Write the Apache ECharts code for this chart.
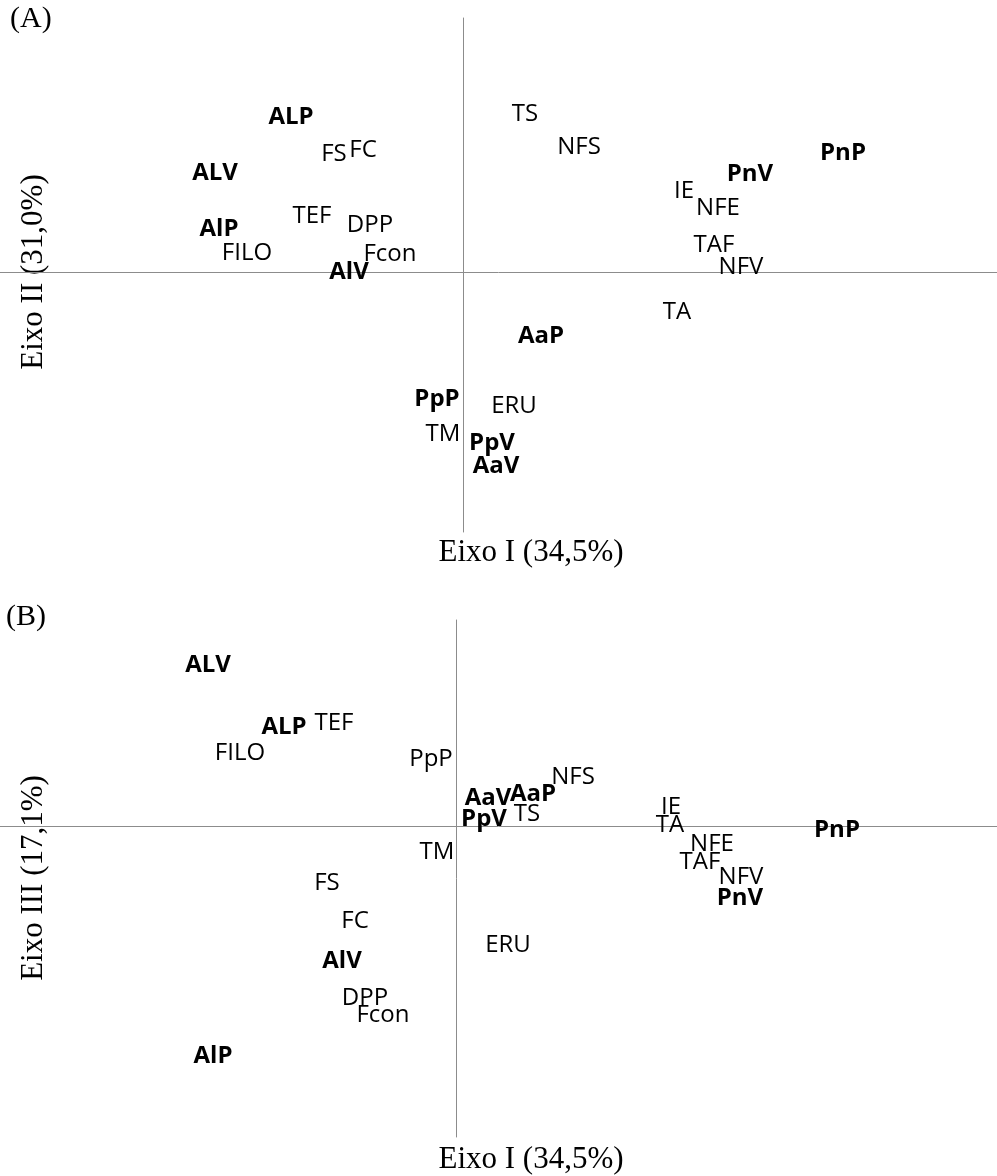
<!DOCTYPE html>
<html>
<head>
<meta charset="utf-8">
<script src="https://cdn.jsdelivr.net/npm/echarts@6/dist/echarts.min.js"></script>
<style>html,body{margin:0;padding:0;background:#fff}#c{width:997px;height:1176px}</style>
</head>
<body>
<div id="c"></div>
<script>
// Panel A (Eixo I x Eixo II)
var labelsA = ['ALP','FS','FC','ALV','TEF','DPP','AlP','FILO','Fcon','AlV','TS','NFS','PnP','PnV','IE','NFE','TAF','NFV','TA','AaP','PpP','ERU','TM','PpV','AaV'];
var xA = [-1.72,-1.29,-1.00,-2.48,-1.51,-0.93,-2.44,-2.16,-0.73,-1.14,0.62,1.16,3.80,2.87,2.21,2.55,2.51,2.78,2.14,0.78,-0.26,0.51,-0.20,0.29,0.33];
var yA = [1.57,1.20,1.24,1.01,0.58,0.49,0.45,0.21,0.20,0.02,1.60,1.27,1.21,1.00,0.83,0.66,0.29,0.07,-0.38,-0.62,-1.25,-1.32,-1.60,-1.69,-1.92];
var boldA = [1,0,0,1,0,0,1,0,0,1,0,0,1,1,0,0,0,0,0,1,1,0,0,1,1];

// Panel B (Eixo I x Eixo III)
var labelsB = ['ALV','ALP','TEF','FILO','PpP','NFS','AaV','AaP','TS','PpV','TM','IE','TA','NFE','TAF','NFV','PnV','PnP','FS','FC','AlV','ERU','DPP','Fcon','AlP'];
var xB = [-2.48,-1.72,-1.22,-2.16,-0.25,1.17,0.32,0.77,0.71,0.28,-0.19,2.15,2.14,2.56,2.44,2.85,2.84,3.81,-1.29,-1.01,-1.14,0.52,-0.91,-0.73,-2.43];
var yB = [1.63,1.01,1.05,0.75,0.69,0.51,0.30,0.34,0.14,0.09,-0.24,0.21,0.03,-0.16,-0.34,-0.49,-0.70,-0.02,-0.55,-0.93,-1.33,-1.17,-1.70,-1.87,-2.28];
var boldB = [1,1,0,0,0,0,1,1,0,1,0,0,0,0,0,0,1,1,0,0,1,0,0,0,1];

// Axis titles
var xTitle = 'Eixo I (34,5%)';
var yTitleA = 'Eixo II (31,0%)';
var yTitleB = 'Eixo III (17,1%)';

function build(labels, xs, ys, bold) {
  return labels.map(function (n, i) {
    return {
      name: n,
      value: [xs[i], ys[i]],
      label: { fontWeight: bold[i] ? 'bold' : 'normal' }
    };
  });
}

var axisColor = '#8c8c8c';
function xAx(idx, min, max) {
  return {
    type: 'value', gridIndex: idx, min: min, max: max,
    axisLine: { show: true, onZero: true, lineStyle: { color: axisColor, width: 1 } },
    axisTick: { show: false }, axisLabel: { show: false }, splitLine: { show: false }
  };
}
function yAx(idx, min, max) {
  return {
    type: 'value', gridIndex: idx, min: min, max: max,
    axisLine: { show: true, onZero: true, lineStyle: { color: axisColor, width: 1 } },
    axisTick: { show: false }, axisLabel: { show: false }, splitLine: { show: false }
  };
}
var lbl = {
  show: true, position: 'inside', formatter: '{b}', offset: [0, 2],
  fontFamily: 'Open Sans', fontSize: 24, color: '#000', opacity: 1
};
var chart = echarts.init(document.getElementById('c'), null, { renderer: 'canvas' });
var serif = 'Liberation Serif';
chart.setOption({
  animation: false,
  backgroundColor: '#fff',
  grid: [
    { left: 0, right: 0, top: 18, height: 514 },
    { left: 0, right: 0, top: 620, height: 517 }
  ],
  xAxis: [xAx(0, -4.63, 5.34), xAx(1, -4.56, 5.41)],
  yAxis: [yAx(0, -2.60, 2.54), yAx(1, -3.11, 2.06)],
  series: [
    {
      type: 'scatter', xAxisIndex: 0, yAxisIndex: 0, symbolSize: 1,
      itemStyle: { color: 'rgba(0,0,0,0)' }, clip: false,
      emphasis: { disabled: true },
      label: lbl, data: build(labelsA, xA, yA, boldA)
    },
    {
      type: 'scatter', xAxisIndex: 1, yAxisIndex: 1, symbolSize: 1,
      itemStyle: { color: 'rgba(0,0,0,0)' }, clip: false,
      emphasis: { disabled: true },
      label: lbl, data: build(labelsB, xB, yB, boldB)
    }
  ],
  graphic: [
    { type: 'text', left: 10, top: 4, style: { text: '(A)', font: '30px "' + serif + '"', fill: '#000' } },
    { type: 'text', left: 6, top: 602, style: { text: '(B)', font: '30px "' + serif + '"', fill: '#000' } },
    { type: 'text', x: 531, y: 553, style: { text: xTitle, font: '31px "' + serif + '"', fill: '#000', align: 'center', verticalAlign: 'middle' } },
    { type: 'text', x: 531, y: 1160, style: { text: xTitle, font: '31px "' + serif + '"', fill: '#000', align: 'center', verticalAlign: 'middle' } },
    { type: 'text', x: 34, y: 272, rotation: Math.PI / 2, style: { text: yTitleA, font: '31px "' + serif + '"', fill: '#000', align: 'center', verticalAlign: 'middle' } },
    { type: 'text', x: 34, y: 878, rotation: Math.PI / 2, style: { text: yTitleB, font: '31px "' + serif + '"', fill: '#000', align: 'center', verticalAlign: 'middle' } }
  ]
});
</script>
</body>
</html>
